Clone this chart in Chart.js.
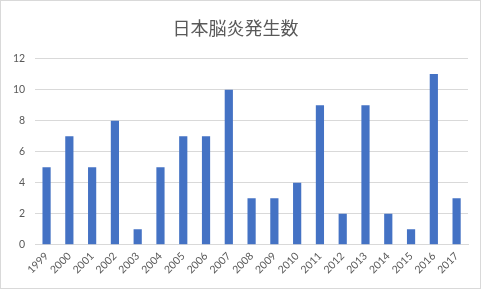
<!DOCTYPE html>
<html><head><meta charset="utf-8">
<script src="https://cdn.jsdelivr.net/npm/chart.js@4/dist/chart.umd.min.js"></script>
<style>
html,body{margin:0;padding:0;background:#fff;}
#wrap{position:absolute;left:0;top:0;width:479px;height:287px;border:1px solid #d9d9d9;}
canvas{display:block;}
</style></head><body>
<div id="wrap"><canvas id="c" width="479" height="287"></canvas></div>
<script>
const categories = ['1999','2000','2001','2002','2003','2004','2005','2006','2007','2008','2009','2010','2011','2012','2013','2014','2015','2016','2017'];
const cases = [5,7,5,8,1,5,7,7,10,3,3,4,9,2,9,2,1,11,3];
const yTicks = [0,2,4,6,8,10,12];
const titleText = '日本脳炎発生数';

new Chart(document.getElementById('c'), {
  type: 'bar',
  data: { labels: categories, datasets: [{ data: cases, backgroundColor: '#4472C4', categoryPercentage: 1, barPercentage: 0.36 }] },
  options: {
    responsive: false, animation: false,
    layout: { padding: { left: 2, right: 12, top: 6, bottom: 7 } },
    plugins: {
      legend: { display: false }, tooltip: { enabled: false },
      title: { display: true, text: titleText, color: '#595959', font: { family: '"Noto Sans CJK JP"', size: 18, weight: 'normal' }, padding: { top: 10, bottom: 20 } }
    },
    scales: {
      x: {
        grid: { display: false, drawTicks: false },
        border: { color: '#d9d9d9' },
        ticks: { color: '#595959', font: { family: 'Lato', size: 10.5 }, minRotation: 45, maxRotation: 45, padding: 5 }
      },
      y: {
        min: 0, max: 12,
        afterBuildTicks: (s) => { s.ticks = yTicks.map(v => ({ value: v })); },
        grid: { color: '#d9d9d9', drawTicks: false },
        border: { display: false },
        ticks: { color: '#595959', font: { family: 'Lato', size: 10.5 }, padding: 10 }
      }
    }
  }
});
</script>
</body></html>
